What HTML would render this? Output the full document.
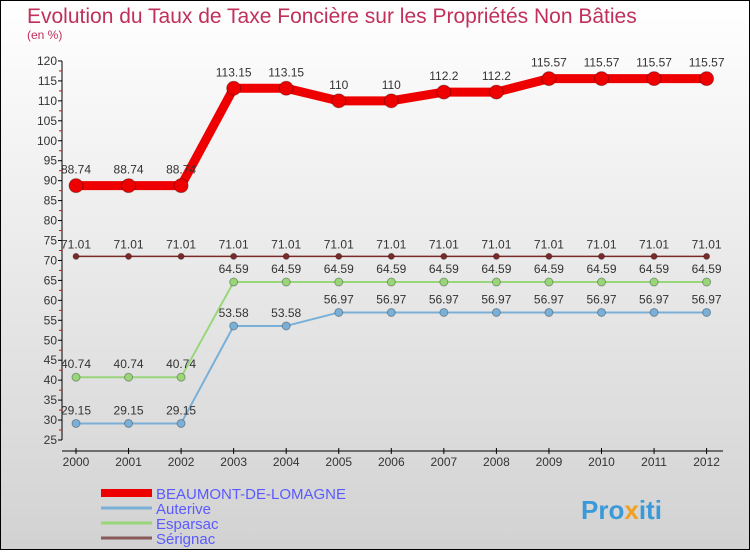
<!DOCTYPE html>
<html><head><meta charset="utf-8"><style>
html,body{margin:0;padding:0}
body{width:750px;height:550px;overflow:hidden;font-family:"Liberation Sans",sans-serif}
#wrap{position:relative;width:748px;height:548px;border:1px solid #000;background:linear-gradient(#ffffff,#d2d2d2)}
svg text{font-family:"Liberation Sans",sans-serif}
</style></head><body>
<div id="wrap">
<svg id="chart" width="748" height="548">
<text x="26" y="22" font-size="21" fill="#c0305a">Evolution du Taux de Taxe Foncière sur les Propriétés Non Bâties</text>
<text x="26" y="38" font-size="12" fill="#c0305a">(en %)</text>
<g id="axes"></g><g id="series"></g><g id="legend"></g>
<text x="580" y="518" font-size="26" font-weight="bold" fill="#3a9ad9">Pro<tspan fill="#f0a020">x</tspan>iti</text>
</svg></div>
<script>
const years=[2000,2001,2002,2003,2004,2005,2006,2007,2008,2009,2010,2011,2012];
const beaumont=[88.74,88.74,88.74,113.15,113.15,110,110,112.2,112.2,115.57,115.57,115.57,115.57];
const auterive=[29.15,29.15,29.15,53.58,53.58,56.97,56.97,56.97,56.97,56.97,56.97,56.97,56.97];
const esparsac=[40.74,40.74,40.74,64.59,64.59,64.59,64.59,64.59,64.59,64.59,64.59,64.59,64.59];
const serignac=[71.01,71.01,71.01,71.01,71.01,71.01,71.01,71.01,71.01,71.01,71.01,71.01,71.01];
const yTicks=[25,30,35,40,45,50,55,60,65,70,75,80,85,90,95,100,105,110,115,120];
const NS="http://www.w3.org/2000/svg";
function X(i){return 75+i*52.55;}
function Y(v){return 439-(v-25)*3.99;}
function mk(tag,attrs,parent){const e=document.createElementNS(NS,tag);for(const k in attrs)e.setAttribute(k,attrs[k]);parent.appendChild(e);return e;}
const axes=document.getElementById('axes');
let a=mk('line',{x1:61,y1:Y(120),x2:61,y2:Y(25),stroke:'#000'},axes);


a=mk('line',{x1:61,y1:450,x2:722,y2:450,stroke:'#000'},axes);


yTicks.forEach(t=>{
 const y=Y(t);
 let l=mk('line',{x1:57,y1:y,x2:61,y2:y,stroke:'#000'},axes);
 
 
 let m=mk('line',{x1:58,y1:y+10,x2:61,y2:y+10,stroke:'#e00'},axes);
 if(t===25)m.remove();
 let tx=mk('text',{x:56,y:y+4,'font-size':12,'text-anchor':'end',fill:'#333'},axes);
 tx.textContent=t;
 
 
});
years.forEach((yr,i)=>{
 let l=mk('line',{x1:X(i),y1:447,x2:X(i),y2:453,stroke:'#000'},axes);
 
 
 let tx=mk('text',{x:X(i),y:465,'font-size':12,'text-anchor':'middle',fill:'#333'},axes);
 tx.textContent=yr;
 
 
});
const ser=document.getElementById('series');
function draw(vals,color,w,r,name){
 const g=mk('g',{},ser);
 
 
 const p=mk('polyline',{points:vals.map((v,i)=>X(i)+','+Y(v)).join(' '),fill:'none',stroke:color,'stroke-width':w,'stroke-linejoin':'round'},g);
 
 
 vals.forEach((v,i)=>{
  const c=mk('circle',{cx:X(i),cy:Y(v),r:r,fill:color,stroke:'rgba(0,0,0,0.3)'},g);
  
  
  const t=mk('text',{x:X(i),y:Y(v)-(r+5),'font-size':12,'text-anchor':'middle',fill:'#333'},g);
  t.textContent=v;
  
  
 });
}
draw(serignac,'#7a2a2a',1.5,3,'serignac');
draw(esparsac,'#99d67a',2,4,'esparsac');
draw(auterive,'#7ab0d8',2,4,'auterive');
draw(beaumont,'#ee0000',9,7,'beaumont');
const lg=document.getElementById('legend');
[['BEAUMONT-DE-LOMAGNE','#ee0000',8],['Auterive','#7ab0d8',3],['Esparsac','#99d67a',3],['Sérignac','#8a5a5a',3]].forEach((d,i)=>{
 const y=492+i*15;
 const l=mk('line',{x1:100,y1:y,x2:151,y2:y,stroke:d[1],'stroke-width':d[2]},lg);
 
 
 const t=mk('text',{x:155,y:y+6,'font-size':15,fill:'#5a5aff'},lg);
 t.textContent=d[0];
 
 
});
</script>
</body></html>
